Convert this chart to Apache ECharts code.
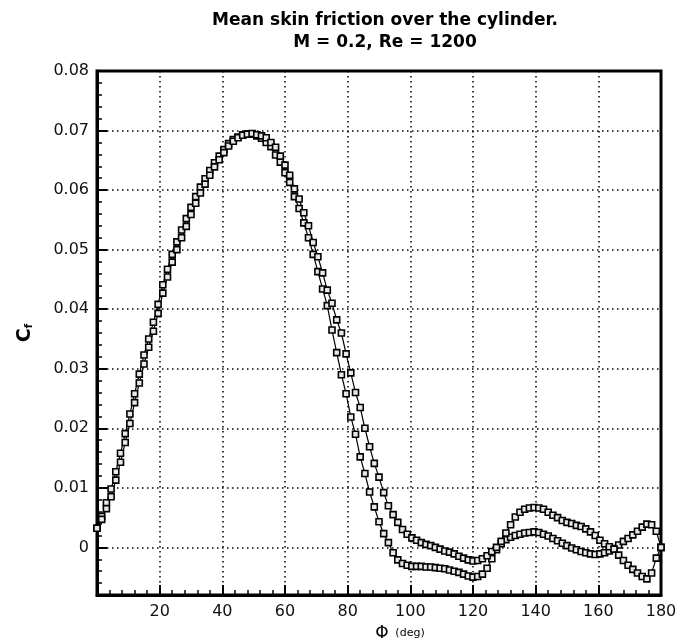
<!DOCTYPE html>
<html>
<head>
<meta charset="utf-8">
<script src="https://cdn.jsdelivr.net/npm/echarts@6/dist/echarts.min.js"></script>
<style>html,body{margin:0;padding:0;background:#fff;}#c{width:677px;height:639px;}</style>
</head>
<body>
<div id="c"></div>
<script>
const phi = [0,1.5,3,4.5,6,7.5,9,10.5,12,13.5,15,16.5,18,19.5,21,22.5,24,25.5,27,28.5,30,31.5,33,34.5,36,37.5,39,40.5,42,43.5,45,46.5,48,49.5,51,52.5,54,55.5,57,58.5,60,61.5,63,64.5,66,67.5,69,70.5,72,73.5,75,76.5,78,79.5,81,82.5,84,85.5,87,88.5,90,91.5,93,94.5,96,97.5,99,100.5,102,103.5,105,106.5,108,109.5,111,112.5,114,115.5,117,118.5,120,121.5,123,124.5,126,127.5,129,130.5,132,133.5,135,136.5,138,139.5,141,142.5,144,145.5,147,148.5,150,151.5,153,154.5,156,157.5,159,160.5,162,163.5,165,166.5,168,169.5,171,172.5,174,175.5,177,178.5,180];

const cfA = [0.0032,0.0052,0.0075,0.0098,0.0127,0.0158,0.0191,0.0224,0.0258,0.0291,0.0323,0.0350,0.0378,0.0408,0.0441,0.0467,0.0492,0.0513,0.0533,0.0552,0.0571,0.0589,0.0605,0.0619,0.0633,0.0646,0.0657,0.0668,0.0678,0.0685,0.0689,0.0693,0.0694,0.0694,0.0691,0.0687,0.0680,0.0673,0.0659,0.0647,0.0629,0.0613,0.0589,0.0569,0.0545,0.0520,0.0492,0.0463,0.0434,0.0406,0.0365,0.0327,0.0290,0.0258,0.0219,0.0190,0.0152,0.0124,0.0093,0.0068,0.0043,0.0023,0.0008,-0.0009,-0.0021,-0.0027,-0.0030,-0.0032,-0.0032,-0.0032,-0.0033,-0.0033,-0.0034,-0.0035,-0.0036,-0.0038,-0.0040,-0.0042,-0.0045,-0.0048,-0.0050,-0.0049,-0.0045,-0.0035,-0.0019,-0.0004,0.0006,0.0013,0.0017,0.0020,0.0022,0.0024,0.0025,0.0026,0.0025,0.0022,0.0019,0.0015,0.0011,0.0007,0.0003,-0.0001,-0.0004,-0.0007,-0.0009,-0.0011,-0.0012,-0.0011,-0.0009,-0.0006,-0.0002,0.0004,0.0010,0.0015,0.0021,0.0027,0.0034,0.0039,0.0038,0.0027,0.0000];

const cfB = [0.0032,0.0047,0.0065,0.0085,0.0113,0.0143,0.0176,0.0208,0.0243,0.0276,0.0308,0.0336,0.0363,0.0393,0.0427,0.0454,0.0479,0.0500,0.0520,0.0539,0.0559,0.0578,0.0595,0.0610,0.0625,0.0639,0.0651,0.0663,0.0674,0.0682,0.0688,0.0692,0.0694,0.0695,0.0693,0.0691,0.0688,0.0680,0.0672,0.0657,0.0642,0.0625,0.0602,0.0585,0.0562,0.0540,0.0512,0.0488,0.0461,0.0432,0.0410,0.0382,0.0360,0.0325,0.0293,0.0260,0.0235,0.0200,0.0169,0.0141,0.0118,0.0092,0.0070,0.0055,0.0042,0.0030,0.0022,0.0016,0.0012,0.0008,0.0005,0.0003,0.0000,-0.0003,-0.0006,-0.0008,-0.0011,-0.0015,-0.0018,-0.0021,-0.0023,-0.0022,-0.0019,-0.0014,-0.0007,0.0000,0.0010,0.0024,0.0038,0.0051,0.0059,0.0064,0.0066,0.0067,0.0066,0.0064,0.0059,0.0054,0.0050,0.0045,0.0042,0.0040,0.0037,0.0035,0.0031,0.0026,0.0020,0.0012,0.0006,0.0001,-0.0003,-0.0013,-0.0022,-0.0030,-0.0037,-0.0043,-0.0049,-0.0053,-0.0043,-0.0018,0.0000];

const yMajorTicks = [0,0.01,0.02,0.03,0.04,0.05,0.06,0.07,0.08];
const yGridLines = [0,0.01,0.02,0.03,0.04,0.05,0.06,0.07];

const FONT = '"DejaVu Sans", "Liberation Sans", Arial, sans-serif';
const pair = (xs, ys) => xs.map((x, i) => [x, ys[i]]);

function yLabel(v) {
  const r = Math.round(v * 100);
  if (Math.abs(v * 100 - r) > 1e-6 || r < 0) return '';
  if (r === 0) return '0';
  return (r / 100).toFixed(2);
}

const chart = echarts.init(document.getElementById('c'), null, {renderer: 'canvas'});

const seriesStyle = {
  type: 'line',
  symbol: 'rect',
  symbolSize: 6,
  showAllSymbol: true,
  xAxisIndex: 0,
  yAxisIndex: 0,
  lineStyle: {color: '#000', width: 1.2},
  itemStyle: {color: '#e8e8e8', borderColor: '#000', borderWidth: 1.6},
  emphasis: {disabled: true},
  z: 5
};

chart.setOption({
  animation: false,
  backgroundColor: '#fff',
  title: {
    text: 'Mean skin friction over the cylinder.\nM = 0.2, Re = 1200',
    left: 380,
    top: 5,
    textAlign: 'center',
    textStyle: {fontFamily: FONT, fontWeight: 'bold', fontSize: 17, color: '#000', lineHeight: 22}
  },
  grid: {
    left: 97, right: 16, top: 71, bottom: 44,
    outerBoundsMode: 'none', containLabel: false,
    show: true, borderColor: '#000', borderWidth: 3, backgroundColor: 'transparent'
  },
  xAxis: [{
    type: 'value', min: 0, max: 180, interval: 20, position: 'bottom',
    axisLine: {show: true, onZero: false, lineStyle: {color: '#000', width: 3}},
    axisTick: {show: true, inside: true, length: 10, lineStyle: {color: '#000', width: 2}},
    minorTick: {show: true, splitNumber: 5, length: 5, lineStyle: {color: '#000', width: 1.5}},
    splitLine: {show: true, lineStyle: {color: '#000', width: 1.5, type: [1.5, 3.5]}},
    axisLabel: {show: true, margin: 9, fontFamily: FONT, fontSize: 16, color: '#111',
      formatter: v => v === 0 ? '' : String(v)},
    name: '{a|Φ}  {b|(deg)}',
    nameLocation: 'middle',
    nameGap: 28,
    nameTextStyle: {padding: [0, 0, 0, 42],
      rich: {a: {fontFamily: FONT, fontSize: 17, color: '#000'}, b: {fontFamily: FONT, fontSize: 11, color: '#000'}}}
  }],
  yAxis: [{
    type: 'value', min: -0.008, max: 0.08, interval: 0.002, position: 'left',
    axisLine: {show: true, onZero: false, lineStyle: {color: '#000', width: 3}},
    axisTick: {show: true, inside: true, length: 5, lineStyle: {color: '#000', width: 1.5}},
    splitLine: {show: false},
    axisLabel: {show: true, margin: 8, fontFamily: FONT, fontSize: 16, color: '#111', formatter: yLabel},
    name: '{c|C}{f|f}',
    nameLocation: 'middle',
    nameGap: 62,
    nameRotate: 90,
    nameTextStyle: {rich: {c: {fontFamily: FONT, fontSize: 19, fontWeight: 'bold', color: '#000'},
      f: {fontFamily: FONT, fontSize: 11, fontWeight: 'bold', color: '#000', verticalAlign: 'bottom', padding: [8, 0, 0, 0]}}}
  }, {
    type: 'value', min: -0.008, max: 0.08, position: 'left',
    axisLine: {show: false, onZero: false},
    axisTick: {show: true, inside: true, length: 10, customValues: yMajorTicks, lineStyle: {color: '#000', width: 2}},
    axisLabel: {show: false, customValues: yMajorTicks},
    splitLine: {show: false}
  }],
  series: [
    Object.assign({}, seriesStyle, {
      name: 'A', data: pair(phi, cfA),
      markLine: {
        silent: true, symbol: 'none', animation: false, label: {show: false},
        lineStyle: {color: '#000', width: 1.5, type: [1.5, 3.5]},
        emphasis: {disabled: true},
        data: yGridLines.map(v => ({yAxis: v}))
      }
    }),
    Object.assign({}, seriesStyle, {name: 'B', data: pair(phi, cfB)})
  ]
});
</script>
</body>
</html>
